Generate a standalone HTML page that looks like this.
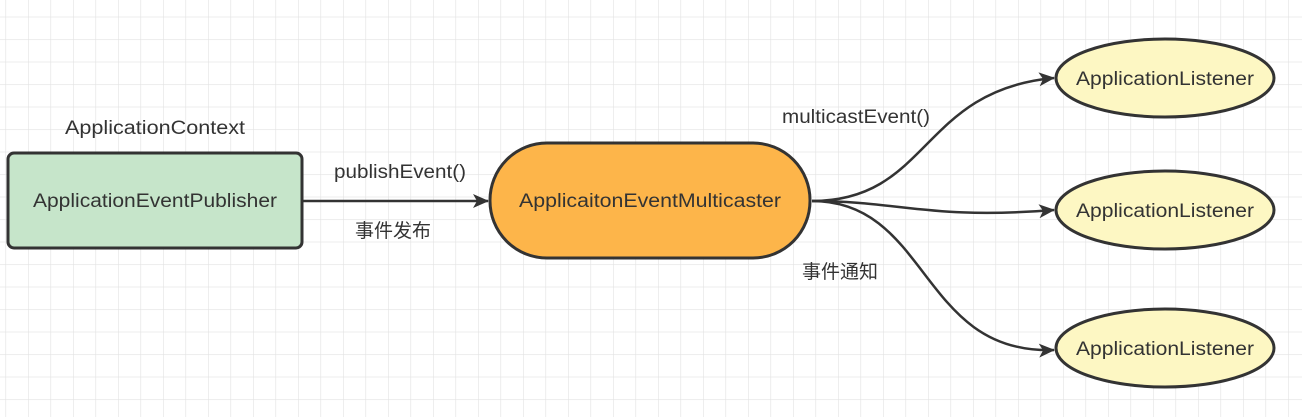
<!DOCTYPE html>
<html><head><meta charset="utf-8"><style>
html,body{margin:0;padding:0;background:#fff}
svg{display:block}
text{font-family:"Liberation Sans","Noto Sans CJK SC",sans-serif;font-size:19px;fill:#333}
</style></head><body>
<svg width="1302" height="417" viewBox="0 0 1302 417">
<defs>
<pattern id="g" x="5.5" y="16.7" width="22.5" height="22.5" patternUnits="userSpaceOnUse">
<path d="M0 0H22.5M0 0V22.5" stroke="#e2e2e2" stroke-width="1.2" fill="none"/>
</pattern>
<marker id="a" markerWidth="16" markerHeight="14" refX="15" refY="7" orient="auto" markerUnits="userSpaceOnUse">
<path d="M0,0 L16,7 L0,14 L4,7 z" fill="#333"/>
</marker>
</defs>
<rect width="1302" height="417" fill="url(#g)"/>
<text x="155" y="134" text-anchor="middle" textLength="180" lengthAdjust="spacingAndGlyphs">ApplicationContext</text>
<rect x="8" y="153" width="294" height="95" rx="6" fill="#c6e5ca" stroke="#333" stroke-width="3"/>
<text x="155" y="207" text-anchor="middle" textLength="244" lengthAdjust="spacingAndGlyphs">ApplicationEventPublisher</text>
<line x1="302" y1="201" x2="488" y2="201" stroke="#333" stroke-width="2.5" marker-end="url(#a)"/>
<text x="400" y="178" text-anchor="middle" textLength="132" lengthAdjust="spacingAndGlyphs">publishEvent()</text>
<text x="393" y="237" text-anchor="middle">事件发布</text>
<rect x="490" y="143" width="320" height="115" rx="57" fill="#fdb54a" stroke="#333" stroke-width="3"/>
<text x="650" y="207" text-anchor="middle" textLength="262" lengthAdjust="spacingAndGlyphs">ApplicaitonEventMulticaster</text>
<path d="M812 201 C930 201 920 90 1054 78" fill="none" stroke="#333" stroke-width="2.5" marker-end="url(#a)"/>
<path d="M812 201 C900 201 930 220 1054 210" fill="none" stroke="#333" stroke-width="2.5" marker-end="url(#a)"/>
<path d="M812 201 C930 201 920 355 1054 350" fill="none" stroke="#333" stroke-width="2.5" marker-end="url(#a)"/>
<text x="856" y="123" text-anchor="middle" textLength="148" lengthAdjust="spacingAndGlyphs">multicastEvent()</text>
<text x="840" y="278" text-anchor="middle">事件通知</text>
<ellipse cx="1165" cy="78" rx="109" ry="39" fill="#fdf7c3" stroke="#333" stroke-width="3"/>
<text x="1165" y="85" text-anchor="middle" textLength="178" lengthAdjust="spacingAndGlyphs">ApplicationListener</text>
<ellipse cx="1165" cy="210" rx="109" ry="39" fill="#fdf7c3" stroke="#333" stroke-width="3"/>
<text x="1165" y="217" text-anchor="middle" textLength="178" lengthAdjust="spacingAndGlyphs">ApplicationListener</text>
<ellipse cx="1165" cy="348" rx="109" ry="39" fill="#fdf7c3" stroke="#333" stroke-width="3"/>
<text x="1165" y="355" text-anchor="middle" textLength="178" lengthAdjust="spacingAndGlyphs">ApplicationListener</text>
</svg>
</body></html>
